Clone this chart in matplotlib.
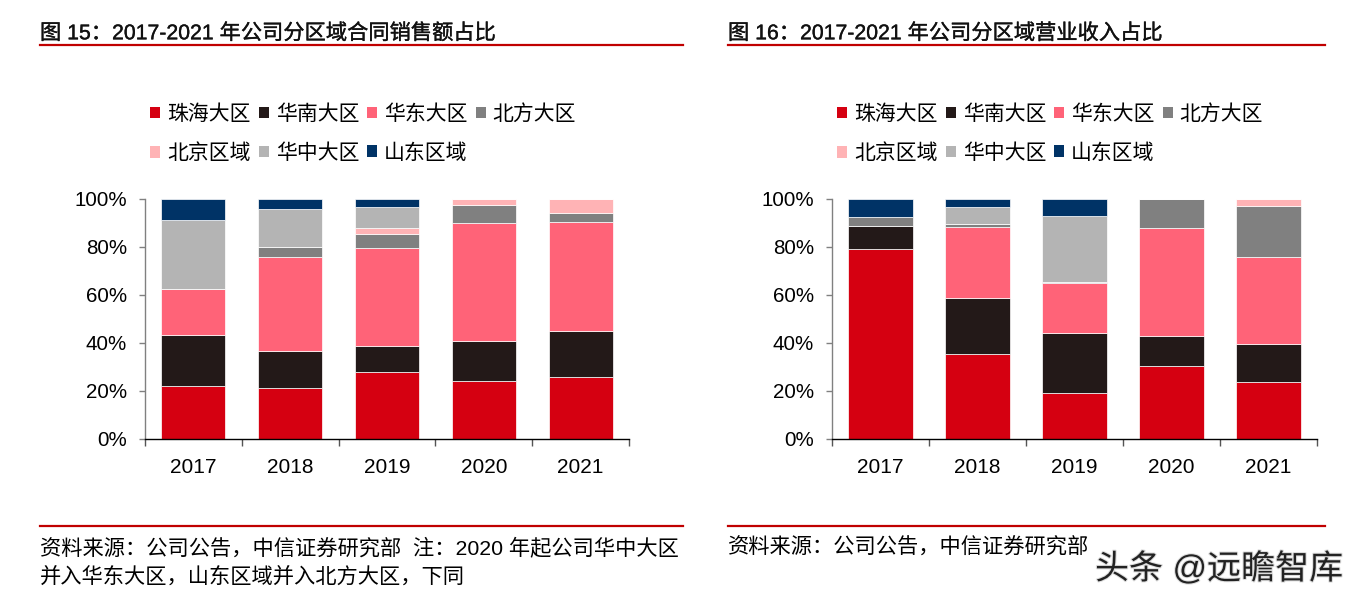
import matplotlib
matplotlib.use("Agg")
import matplotlib.pyplot as plt
from matplotlib.patches import Patch
from matplotlib.lines import Line2D
import matplotlib.patheffects as pe
import numpy as np

plt.rcParams['font.family'] = ['Liberation Sans', 'Noto Sans CJK SC', 'DejaVu Sans']

years = ["2017", "2018", "2019", "2020", "2021"]
regions = ["珠海大区", "华南大区", "华东大区", "北方大区", "北京区域", "华中大区", "山东区域"]
colors = ["#D50011", "#231918", "#FF6378", "#808080", "#FFB3B5", "#B4B4B4", "#003366"]

# Chart 1: 合同销售额占比 (%)
sales_zhuhai = [22.1, 21.4, 27.8, 24.1, 25.9]
sales_huanan = [21.1, 15.4, 11.1, 16.7, 19.1]
sales_huadong = [19.5, 39.1, 40.8, 49.2, 45.5]
sales_beifang = [0.0, 4.0, 5.6, 7.4, 3.7]
sales_beijing = [0.0, 0.0, 2.5, 2.6, 5.8]
sales_huazhong = [28.7, 15.8, 8.7, 0.0, 0.0]
sales_shandong = [8.6, 4.3, 3.5, 0.0, 0.0]

# Chart 2: 营业收入占比 (%)
rev_zhuhai = [79.3, 35.3, 19.2, 30.4, 23.8]
rev_huanan = [9.6, 23.6, 24.8, 12.6, 15.9]
rev_huadong = [0.0, 29.6, 20.9, 44.8, 36.2]
rev_beifang = [3.5, 0.9, 0.4, 12.2, 21.1]
rev_beijing = [0.0, 0.0, 0.0, 0.0, 3.0]
rev_huazhong = [0.0, 7.1, 27.6, 0.0, 0.0]
rev_shandong = [7.6, 3.5, 7.1, 0.0, 0.0]

sales = [sales_zhuhai, sales_huanan, sales_huadong, sales_beifang,
         sales_beijing, sales_huazhong, sales_shandong]
revenue = [rev_zhuhai, rev_huanan, rev_huadong, rev_beifang,
           rev_beijing, rev_huazhong, rev_shandong]

W, H = 1364, 605
fig = plt.figure(figsize=(W / 100, H / 100), dpi=100)


def fx(px):
    return px / W


def fy(py):
    return 1 - py / H


def draw_panel(left_px, right_px, data, title, line_x0, line_x1, legend_x):
    ax = fig.add_axes([fx(left_px), fy(439), fx(right_px - left_px), 240 / H])
    x = np.arange(len(years))
    bottom = np.zeros(len(years))
    for vals, c, name in zip(data, colors, regions):
        v = np.array(vals)
        ax.bar(x, v, width=0.66, bottom=bottom, color=c, edgecolor="white",
               linewidth=0.5, label=name)
        bottom += v
    ax.set_xlim(-0.5, len(years) - 0.5)
    ax.set_ylim(0, 100)
    ax.set_yticks([0, 20, 40, 60, 80, 100])
    ax.set_yticklabels([f"{t}%" for t in [0, 20, 40, 60, 80, 100]])
    ax.set_xticks(x)
    ax.set_xticklabels(years)
    ax.set_xticks(np.arange(-0.5, len(years)), minor=True)
    ax.tick_params(axis="x", which="major", length=0, pad=14, labelsize=15)
    ax.tick_params(axis="x", which="minor", length=5, width=1, color="#555555")
    ax.tick_params(axis="y", which="major", length=4, width=1, color="#808080",
                   pad=9, labelsize=14.8)
    for s in ["top", "right"]:
        ax.spines[s].set_visible(False)
    ax.spines["left"].set_color("#808080")
    ax.spines["bottom"].set_color("#000000")
    ax.spines["left"].set_linewidth(1)
    ax.spines["bottom"].set_linewidth(1)

    # legend (row-major order in 4 columns)
    handles = [Patch(facecolor=c) for c in colors]
    order = [0, 4, 1, 5, 2, 6, 3]
    fig.legend([handles[i] for i in order], [regions[i] for i in order],
               ncol=4, loc="upper left",
               bbox_to_anchor=(fx(legend_x), fy(104)),
               bbox_transform=fig.transFigure,
               frameon=False, fontsize=15, handlelength=0.5, handleheight=0.5,
               handletextpad=0.32, columnspacing=0.38, labelspacing=0.93,
               borderpad=0, borderaxespad=0)

    # title and rules
    fig.text(fx(line_x0), fy(33), title, fontsize=15.3, va="center", ha="left",
             color="#111111",
             path_effects=[pe.withStroke(linewidth=0.25, foreground="#111111")])
    fig.add_artist(Line2D([fx(line_x0), fx(line_x1)], [fy(45), fy(45)],
                          color="#C00000", linewidth=1.6))
    fig.add_artist(Line2D([fx(line_x0), fx(line_x1)], [fy(526), fy(526)],
                          color="#C00000", linewidth=1.6))
    return ax


draw_panel(145, 629, sales, "图 15：2017-2021 年公司分区域合同销售额占比", 40, 683, 150)
draw_panel(832, 1317, revenue, "图 16：2017-2021 年公司分区域营业收入占比", 728, 1325, 837)

fig.text(fx(40), fy(548), "资料来源：公司公告，中信证券研究部  注：2020 年起公司华中大区",
         fontsize=15.3, va="center", ha="left")
fig.text(fx(40), fy(578), "并入华东大区，山东区域并入北方大区，下同",
         fontsize=15.3, va="center", ha="left")
fig.text(fx(728), fy(548), "资料来源：公司公告，中信证券研究部",
         fontsize=15.3, va="center", ha="left")

fig.text(fx(1095), fy(569), "头条 @远瞻智库", fontsize=24.5, va="center", ha="left",
         color="#222222",
         path_effects=[pe.withStroke(linewidth=1.5, foreground="#DDDDDD")])

fig.savefig("out.png", dpi=100)
